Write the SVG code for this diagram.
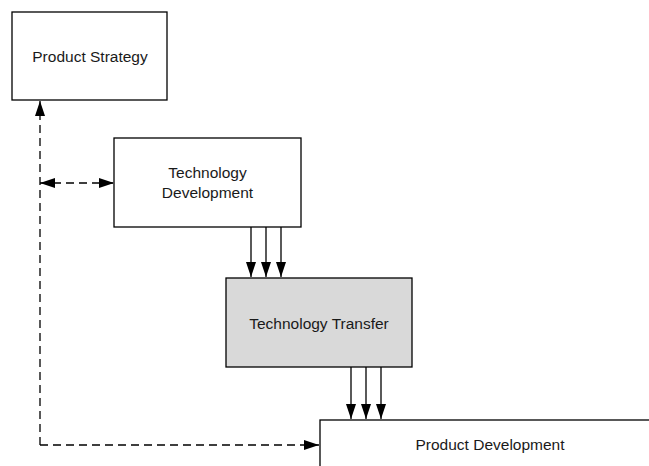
<svg xmlns="http://www.w3.org/2000/svg" width="649" height="466" viewBox="0 0 649 466">
<style>
.box{fill:#ffffff;stroke:#000000;stroke-width:1.3}
.gray{fill:#d9d9d9}
.lbl{font-family:"Liberation Sans",Arial,sans-serif;font-size:15.5px;fill:#1a1a1a;text-anchor:middle;dominant-baseline:central}
.solid{stroke:#000;stroke-width:1.3;fill:none}
.dash{stroke:#000;stroke-width:1.3;fill:none;stroke-dasharray:8,5}
</style>
<defs>
<marker id="ah" viewBox="0 0 15 10" refX="15" refY="5" markerWidth="15" markerHeight="10" markerUnits="userSpaceOnUse" orient="auto-start-reverse">
<path d="M0,0 L15,5 L0,10 Z" fill="#000"/>
</marker>
</defs>
<rect width="649" height="466" fill="#ffffff"/>
<g id="product-strategy">
<rect class="box" x="12" y="12" width="155" height="88"/>
<text class="lbl" x="90" y="56">Product Strategy</text>
</g>
<g id="technology-development">
<rect class="box" x="114" y="138" width="187" height="89"/>
<text class="lbl" x="207.5" y="172">Technology</text>
<text class="lbl" x="207.5" y="192">Development</text>
</g>
<g id="technology-transfer">
<rect class="box gray" x="226" y="278" width="186" height="89"/>
<text class="lbl" x="319" y="323">Technology Transfer</text>
</g>
<g id="product-development">
<rect class="box" x="320" y="420" width="345" height="80"/>
<text class="lbl" x="490" y="444">Product Development</text>
</g>
<g id="connectors">
<path class="dash" d="M40,445 L40,101" marker-end="url(#ah)"/>
<path class="dash" d="M40,445 L319,445" marker-end="url(#ah)"/>
<path class="dash" d="M40,183 L114,183" marker-start="url(#ah)" marker-end="url(#ah)"/>
<path class="solid" d="M251,227 L251,277" marker-end="url(#ah)"/>
<path class="solid" d="M266,227 L266,277" marker-end="url(#ah)"/>
<path class="solid" d="M281,227 L281,277" marker-end="url(#ah)"/>
<path class="solid" d="M351,367 L351,419" marker-end="url(#ah)"/>
<path class="solid" d="M366,367 L366,419" marker-end="url(#ah)"/>
<path class="solid" d="M381,367 L381,419" marker-end="url(#ah)"/>
</g>
</svg>
